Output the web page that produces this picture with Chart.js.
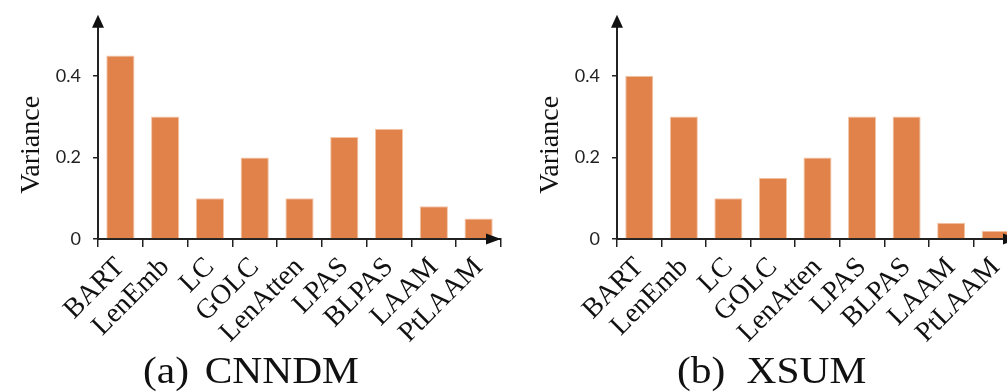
<!DOCTYPE html>
<html><head><meta charset="utf-8">
<script src="https://cdn.jsdelivr.net/npm/chart.js@4.4.0/dist/chart.umd.min.js"></script>
<style>
html,body{margin:0;padding:0;background:#fff;width:1007px;height:392px;overflow:hidden;position:relative}
canvas{position:absolute;top:0}
#c1{left:0;width:503px;height:392px}
#c2{left:519px;width:500px;height:392px}
.cap{position:absolute;top:352px;font-family:'Liberation Serif','Times New Roman',serif;font-size:37px;line-height:37px;color:#111;white-space:pre;transform:scaleX(1.12);transform-origin:0 0}
</style></head><body>
<canvas id="c1" width="503" height="392"></canvas>
<canvas id="c2" width="500" height="392"></canvas>
<div class="cap" style="left:143px">(a)<span style="margin-left:14px">CNNDM</span></div>
<div class="cap" style="left:677px">(b)<span style="margin-left:19px">XSUM</span></div>
<script>
const categories = ['BART','LenEmb','LC','GOLC','LenAtten','LPAS','BLPAS','LAAM','PtLAAM'];
const cnndmVariance = [0.45,0.30,0.10,0.20,0.10,0.25,0.27,0.08,0.05];
const xsumVariance  = [0.40,0.30,0.10,0.15,0.20,0.30,0.30,0.04,0.02];
const yTickValues = [0, 0.2, 0.4];
const yAxisTitle = 'Variance    ';

const arrowPlugin = {
  id: 'arrows',
  afterDraw(chart) {
    const {ctx, chartArea: a} = chart;
    ctx.save();
    ctx.fillStyle = '#111';
    ctx.beginPath();
    ctx.moveTo(a.left, a.top - 8);
    ctx.lineTo(a.left - 6, a.top + 5);
    ctx.lineTo(a.left + 6, a.top + 5);
    ctx.closePath();
    ctx.fill();
    const yb = a.bottom;
    ctx.beginPath();
    ctx.moveTo(a.right, yb);
    ctx.lineTo(a.right - 15, yb - 5.5);
    ctx.lineTo(a.right - 15, yb + 5.5);
    ctx.closePath();
    ctx.fill();
    ctx.restore();
  }
};

function makeChart(id, values, rightPad) {
  return new Chart(document.getElementById(id), {
    type: 'bar',
    data: {
      labels: categories,
      datasets: [{
        data: values,
        backgroundColor: '#E0824A',
        borderColor: '#F3C6A8',
        borderWidth: 1,
        barPercentage: 0.63,
        categoryPercentage: 1
      }]
    },
    plugins: [arrowPlugin],
    options: {
      responsive: false,
      animation: false,
      layout: {padding: {top: 20, right: rightPad, bottom: 0, left: 0}},
      plugins: {legend: {display: false}, tooltip: {enabled: false}},
      scales: {
        x: {
          offset: true,
          grid: {offset: true, drawOnChartArea: false, tickLength: 8, color: '#222', lineWidth: 1.5},
          border: {display: true, color: '#222', width: 2},
          ticks: {autoSkip: false, minRotation: 45, maxRotation: 45, padding: 4, color: '#111',
                  font: {family: "'Liberation Serif', 'Times New Roman', serif", size: 28}},
          afterFit(s) { s.height = 153; s.paddingRight = 0; s.paddingLeft = 0; }
        },
        y: {
          min: 0, max: 0.53,
          grid: {drawOnChartArea: false, tickLength: 5, color: '#222', lineWidth: 1.5},
          border: {display: true, color: '#222', width: 2},
          ticks: {padding: 12, color: '#222', font: {family: 'Lato', size: 18},
                  callback: v => v === 0 ? '0' : v.toFixed(1)},
          afterBuildTicks(s) { s.ticks = yTickValues.map(v => ({value: v})); },
          title: {display: true, text: yAxisTitle, color: '#111',
                  font: {family: "'Liberation Serif', 'Times New Roman', serif", size: 28},
                  padding: {top: 15, bottom: 0}},
          afterFit(s) { s.width = 98; }
        }
      }
    }
  });
}

makeChart('c1', cnndmVariance, 2);
makeChart('c2', xsumVariance, 1);
</script>
</body></html>
